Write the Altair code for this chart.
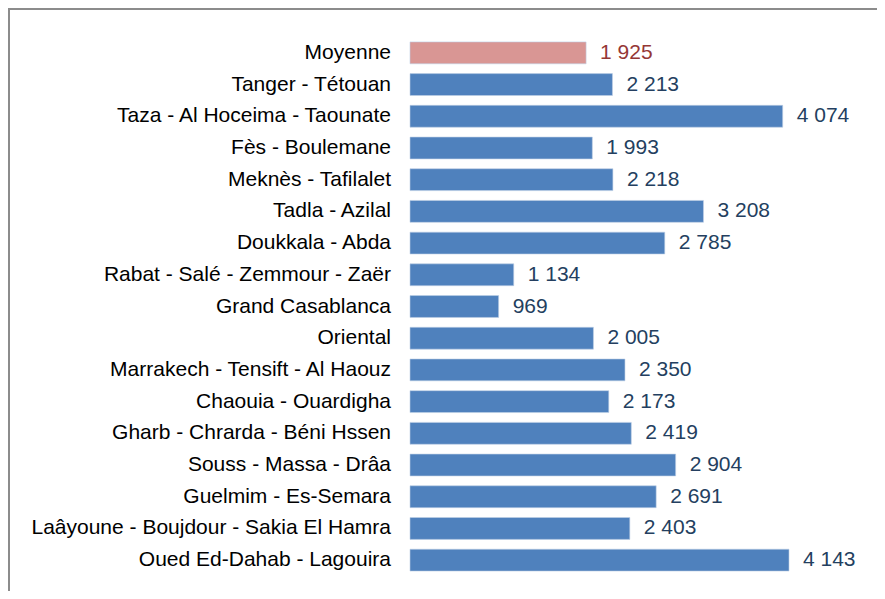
import altair as alt
import pandas as pd

regions = [
    "Moyenne",
    "Tanger - Tétouan",
    "Taza - Al Hoceima - Taounate",
    "Fès - Boulemane",
    "Meknès - Tafilalet",
    "Tadla - Azilal",
    "Doukkala - Abda",
    "Rabat - Salé - Zemmour - Zaër",
    "Grand Casablanca",
    "Oriental",
    "Marrakech - Tensift - Al Haouz",
    "Chaouia - Ouardigha",
    "Gharb - Chrarda - Béni Hssen",
    "Souss - Massa - Drâa",
    "Guelmim - Es-Semara",
    "Laâyoune - Boujdour - Sakia El Hamra",
    "Oued Ed-Dahab - Lagouira",
]
values = [1925, 2213, 4074, 1993, 2218, 3208, 2785, 1134, 969, 2005,
          2350, 2173, 2419, 2904, 2691, 2403, 4143]

bar_colors = ["#D99694" if r == "Moyenne" else "#4F81BD" for r in regions]
text_colors = ["#953735" if r == "Moyenne" else "#243F60" for r in regions]
labels = [f"{v:,}".replace(",", " ") for v in values]

df = pd.DataFrame({
    "region": regions,
    "value": values,
    "bar_color": bar_colors,
    "text_color": text_colors,
    "label": labels,
})

FONT = "Liberation Sans"

yscale = alt.Scale(type="band", domain=regions, range=[29, 568],
                   paddingInner=0.31, paddingOuter=0.155)
xscale = alt.Scale(domain=[0, 5000], range=[402, 402 + 5000 * 0.09148])

y = alt.Y("region:N", scale=yscale, axis=None, sort=None)

bars = alt.Chart(df).mark_bar(stroke="#BFD0E6", strokeWidth=0.6).encode(
    x=alt.X("value:Q", scale=xscale, axis=None),
    y=y,
    color=alt.Color("bar_color:N", scale=None),
)

vals = alt.Chart(df).mark_text(align="left", baseline="middle", dx=14,
                               font=FONT, fontSize=21).encode(
    x=alt.X("value:Q", scale=xscale, axis=None),
    y=y,
    text="label:N",
    color=alt.Color("text_color:N", scale=None),
)

names = alt.Chart(df).mark_text(align="right", baseline="middle",
                                font=FONT, fontSize=21, color="#000000").encode(
    x=alt.value(383),
    y=y,
    text="region:N",
)

left_edge = alt.Chart(df).mark_rule(color="#8C8C8C", strokeWidth=2).encode(
    x=alt.value(0.5), y=alt.value(0), y2=alt.value(583))
top_edge = alt.Chart(df).mark_rule(color="#8C8C8C", strokeWidth=2).encode(
    x=alt.value(0), x2=alt.value(869), y=alt.value(0.5))

chart = alt.layer(bars, vals, names, left_edge, top_edge).properties(
    width=869, height=583,
    autosize=alt.AutoSizeParams(type="none"),
    padding=0,
).configure_view(strokeWidth=0).configure(background="white")

chart.save("out.html", embed_options={"renderer": "svg", "actions": False})
